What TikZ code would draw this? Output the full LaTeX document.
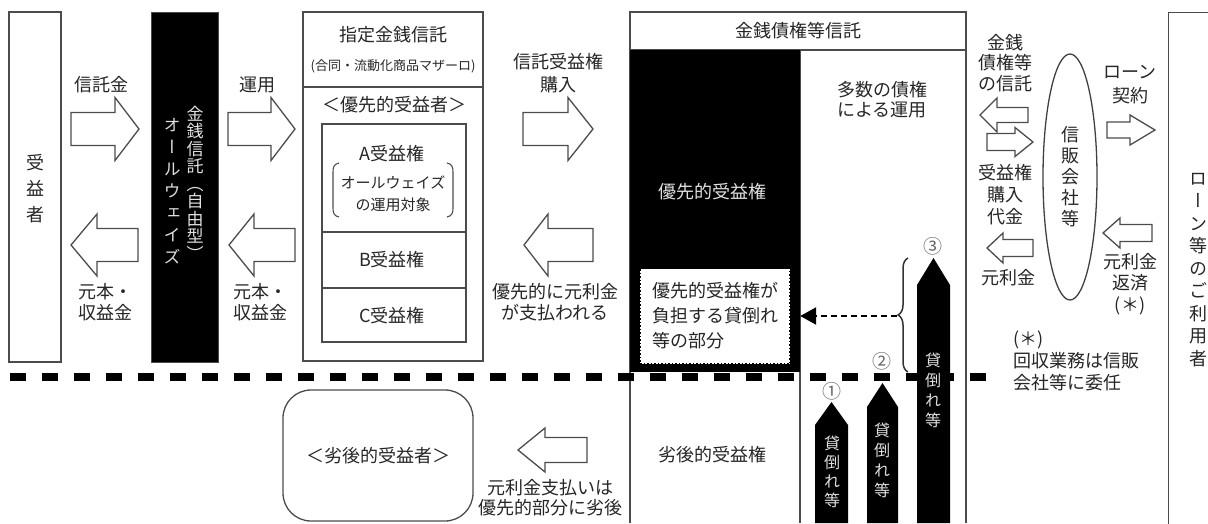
\documentclass[tikz,border=0pt]{standalone}
\usepackage{fontspec}
\setmainfont{Noto Sans CJK JP}
\newfontfamily\vfont[RawFeature=+vert]{Noto Sans CJK JP}
\usetikzlibrary{decorations.pathreplacing,arrows.meta,shapes.geometric}
\newcommand\bArrow[6]{\draw[barrow] (#1,#4-#5) -- (#2,#4-#5) -- (#2,#4-#6) -- (#3,#4) -- (#2,#4+#6) -- (#2,#4+#5) -- (#1,#4+#5) -- cycle;}
\newcommand\penta[5]{\fill[black] (#1,#5) -- (#1,#4) -- ({(#1+#2)/2},#3) -- (#2,#4) -- (#2,#5) -- cycle;}
\begin{document}
\begin{tikzpicture}[x=1pt,y=-1pt,
  ln/.style={draw=black!70, line width=1.3pt},
  barrow/.style={draw=black!70, line width=1.3pt, fill=white, line join=miter},
  lbl/.style={font=\fontsize{18}{22}\selectfont, text=black!85, align=center, inner sep=0},
  vt/.style={font=\vfont\fontsize{18}{22}\selectfont, text=black!85, align=center, inner sep=0},
  circnum/.style={font=\fontsize{19}{19}\selectfont, text=black!60, inner sep=0},
  dasharrow/.style={draw=black, line width=2.5pt, dash pattern=on 6pt off 4pt, -{Triangle[length=16pt,width=17pt]}},
]
\useasboundingbox (0,0) rectangle (1208,523);

% beneficiary box
\node[ln, minimum width=52, minimum height=350, inner sep=0] (juekisha) at (35,187) {};
\node[vt, font=\vfont\fontsize{18}{26}\selectfont] (juekishaT) at (35,189) {受\\益\\者};

% black box: always
\node[fill=black, draw=black!70, line width=1pt, minimum width=67, minimum height=350, inner sep=0] (always) at (184.5,187) {};
\node[vt, text=white!88!black, font=\vfont\fontsize{17}{17.5}\selectfont] (alwaysA) at (195,183) {金\\銭\\信\\託\\（\\自\\由\\型\\）};
\node[vt, text=white!88!black, font=\vfont\fontsize{17}{22}\selectfont] (alwaysB) at (172,191) {オ\\ー\\ル\\ウ\\ェ\\イ\\ズ};

% designated money trust box
\node[ln, minimum width=180, minimum height=349, inner sep=0] (shitei) at (393,186.5) {};
\draw[ln] (shitei.west |- 0,87) -- (shitei.east |- 0,87);
\node[lbl] (shiteiT) at (393,35) {指定金銭信託};
\node[lbl, font=\fontsize{13}{15}\selectfont] (shiteiS) at (393,66) {(合同・流動化商品マザーロ)};
\node[lbl] (yusensha) at (394,105) {＜優先的受益者＞};
\node[ln, minimum width=144, minimum height=218, inner sep=0] (inner) at (394,233) {};
\draw[ln] (inner.west |- 0,232) -- (inner.east |- 0,232);
\draw[ln] (inner.west |- 0,288) -- (inner.east |- 0,288);
\node[lbl] (aken) at (392,154) {A受益権};
\node[lbl, font=\fontsize{15}{22}\selectfont] (akenS) at (393,194) {オールウェイズ\\の運用対象};
\draw[ln, line width=1.1pt] (339,163) .. controls (334,164) and (333,167) .. (333,172) -- (333,208) .. controls (333,213) and (334,216) .. (339,217);
\draw[ln, line width=1.1pt] (447,163) .. controls (452,164) and (453,167) .. (453,172) -- (453,208) .. controls (453,213) and (452,216) .. (447,217);
\node[lbl] (bken) at (392,260) {B受益権};
\node[lbl] (cken) at (392,316) {C受益権};

% labels left
\node[lbl] (l1) at (101,85) {信託金};
\node[lbl] (l2) at (257,85) {運用};
\node[lbl, align=left, font=\fontsize{18}{21}\selectfont] (l3) at (105,302) {元本・\\収益金};
\node[lbl, align=left, font=\fontsize{18}{21}\selectfont] (l4) at (260,302) {元本・\\収益金};
\node[lbl, font=\fontsize{18}{23}\selectfont] (l5) at (558,73) {信託受益権\\購入};
\node[lbl, font=\fontsize{18}{21}\selectfont] (l6) at (555,302) {優先的に元利金\\が支払われる};
\node[lbl, font=\fontsize{18}{20}\selectfont] (l7) at (550,498) {元利金支払いは\\優先的部分に劣後};

% subordinated beneficiary
\node[ln, rounded corners=28, minimum width=190, minimum height=131, inner sep=0, lbl] (retsugo) at (378,455.5) {＜劣後的受益者＞};

% monetary claims trust
\draw[ln] (630,50) -- (630,523);
\draw[ln] (800,50) -- (800,523);
\draw[ln] (966,50) -- (966,523);
\node[ln, minimum width=336, minimum height=38, inner sep=0, lbl] (kinsen) at (798,31) {金銭債権等信託};
\node[fill=black, minimum width=170, minimum height=322, inner sep=0] (yusenK) at (715,211) {};
\node[lbl, text=white!88!black] (yusenT) at (712,192) {優先的受益権};
\node[fill=white, draw=black, dotted, line width=1.5pt, minimum width=150, minimum height=95, inner sep=0, lbl, align=left, font=\fontsize{18}{25}\selectfont] (futan) at (715,316) {優先的受益権が\\負担する貸倒れ\\等の部分};
\node[lbl, font=\fontsize{18}{20}\selectfont] (tasu) at (882,100) {多数の債権\\による運用};
\node[lbl] (retsugoK) at (712,455) {劣後的受益権};

% dashed separator
\draw[black, line width=8pt, dash pattern=on 16pt off 16pt] (10,377) -- (988,377);

% loss arrows
\penta{815}{848}{402}{425}{523}
\penta{867}{898}{383}{407}{523}
\penta{917}{950}{258}{285}{523}
\node[vt, text=white!88!black, font=\vfont\fontsize{16}{19}\selectfont] (k1) at (832,472) {貸\\倒\\れ\\等};
\node[vt, text=white!88!black, font=\vfont\fontsize{16}{20}\selectfont] (k2) at (882,460) {貸\\倒\\れ\\等};
\node[vt, text=white!88!black, font=\vfont\fontsize{16}{20}\selectfont] (k3) at (933,390) {貸\\倒\\れ\\等};
\node[circnum] (n1) at (832,391) {①};
\node[circnum] (n2) at (882,361) {②};
\node[circnum] (n3) at (933,246) {③};

% brace and dashed arrow
\draw[decorate, decoration={brace, amplitude=10pt}, line width=1.5pt, black!80] (908,372) -- (908,258);
\coordinate (bt) at (897,316);
\draw[dasharrow] (bt) -- (bt -| yusenK.east);

% right side
\node[ellipse, draw=black!75, line width=1.3pt, minimum width=54, minimum height=246, inner sep=0] (shinpan) at (1070,177) {};
\node[vt, font=\vfont\fontsize{18}{21}\selectfont] (shinpanT) at (1070,177) {信\\販\\会\\社\\等};
\node[lbl, font=\fontsize{18}{20.5}\selectfont] (r1) at (1005,63) {金銭\\債権等\\の信託};
\node[lbl, font=\fontsize{18}{22}\selectfont] (r2) at (1005,195) {受益権\\購入\\代金};
\node[lbl] (r3) at (1008,278) {元利金};
\node[lbl, font=\fontsize{18}{24}\selectfont] (r4) at (1130,85) {ローン\\契約};
\node[lbl, font=\fontsize{18}{21.5}\selectfont] (r5) at (1130,284) {元利金\\返済\\(＊)};
\node[lbl, align=left, anchor=west, font=\fontsize{18}{22}\selectfont] (r6) at (1013,361) {(＊)\\回収業務は信販\\会社等に委任};

% loan user box
\node[ln, minimum width=60, minimum height=530, inner sep=0, anchor=north west] (user) at (1168,12) {};
\node[vt, font=\vfont\fontsize{18}{22.5}\selectfont] (userT) at (1198,270) {ロ\\ー\\ン\\等\\の\\ご\\利\\用\\者};

% block arrows
\bArrow{71}{115}{139}{129}{16.5}{31.5}
\bArrow{138}{97}{71}{245}{16.5}{31}
\bArrow{228}{271}{295}{129}{16.5}{31.5}
\bArrow{295}{254}{229}{245}{16.5}{31}
\bArrow{523}{568}{593}{129}{16.5}{31.5}
\bArrow{593}{548}{524}{245}{16.5}{31}
\bArrow{587}{545}{518}{450}{12.5}{22}
\bArrow{1028}{997}{980}{115}{7.5}{17}
\bArrow{987}{1015}{1033}{142}{8.5}{14.5}
\bArrow{1033}{1003}{987}{248}{8.5}{15}
\bArrow{1107}{1130}{1155}{130}{8}{15}
\bArrow{1152}{1120}{1103}{233}{8.5}{15}
\end{tikzpicture}
\end{document}
